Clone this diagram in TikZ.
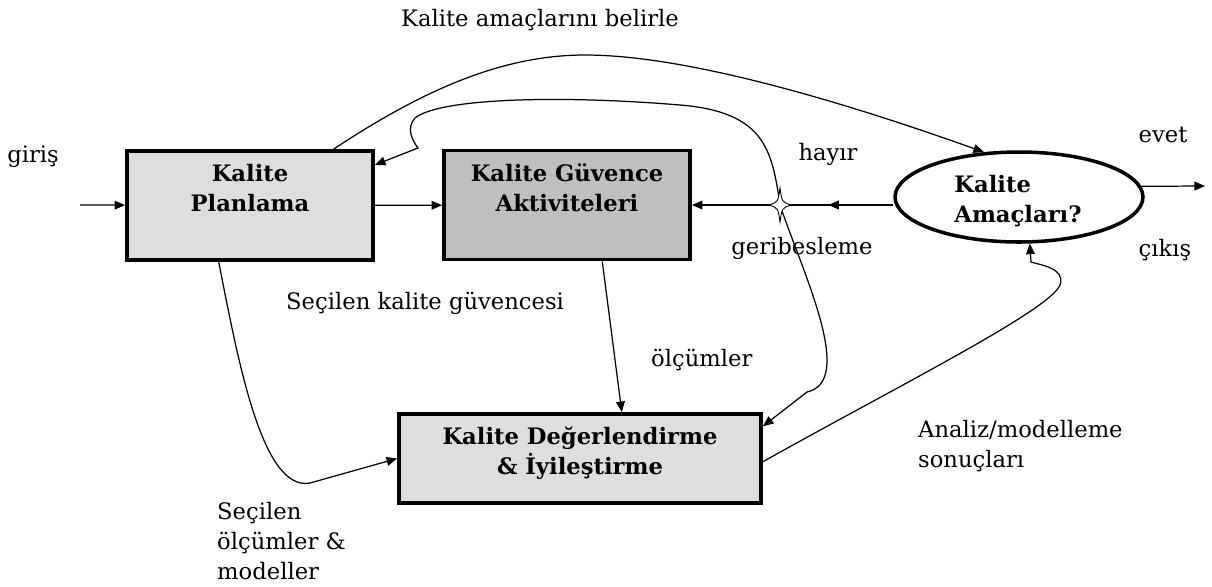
\documentclass[tikz,border=0pt]{standalone}
\usepackage{fontspec}
\setmainfont{DejaVu Serif}
\usetikzlibrary{arrows.meta,shapes.geometric}

\begin{document}
\begin{tikzpicture}[x=0.02cm, y=-0.02cm,
  font=\fontsize{12.9}{17}\selectfont,
  arr/.style={-{Triangle[length=6pt,width=5pt]}, line width=0.7pt},
  blok/.style={draw, line width=2.2pt, inner sep=0pt},
  baslik/.style={align=center, font=\fontsize{12.9}{17}\selectfont\bfseries}]
\useasboundingbox (0,0) rectangle (1212,586);
\node[blok, fill=black!13, minimum width=4.92cm, minimum height=2.18cm] (plan) at (250,205.5) {};
\node[blok, fill=black!25, minimum width=4.92cm, minimum height=2.18cm] (guv) at (567,205) {};
\node[blok, fill=black!13, minimum width=7.24cm, minimum height=1.78cm] (deg) at (580,458.5) {};
\node[draw, ellipse, line width=2pt, inner sep=0pt, minimum width=4.96cm, minimum height=1.8cm] (hedef) at (1019,197) {};
\node[baslik] (planlbl) at (250,188) {Kalite\\Planlama};
\node[baslik] (guvlbl) at (567,188) {Kalite Güvence\\Aktiviteleri};
\node[baslik] (deglbl) at (580,453) {Kalite Değerlendirme\\\& İyileştirme};
\node[baslik, align=left] (hedeflbl) at (1018,201) {Kalite\\Amaçları?};
\coordinate (giris) at (80,205);
\coordinate (cikis) at (1205,186);
\coordinate (jump) at (780,205);
\node (girislbl) at (33,157) {giriş};
\node (evetlbl) at (1163,135) {evet};
\node (cikislbl) at (1165,250) {çıkış};
\node (hayirlbl) at (828,154) {hayır};
\node (geriblbl) at (802,248) {geribesleme};
\node (amaclbl) at (540,20) {Kalite amaçlarını belirle};
\node[anchor=west] (guvsec) at (280,303) {Seçilen kalite güvencesi};
\node[anchor=west] (olcum) at (645,360) {ölçümler};
\node[anchor=west, align=left] (analiz) at (912,446) {Analiz/modelleme\\sonuçları};
\node[anchor=west, align=left] (olcsec) at (211,541) {Seçilen\\ölçümler \&\\modeller};
\draw[arr] (giris) -- (plan);
\draw[arr] (plan) -- (guv);
\draw[arr] (hedef.west |- guv.east) -- ++(-65,0);
\draw[arr] (hedef.west |- guv.east) -- (guv.east);
\draw[arr] (hedef.5) -- (cikis);
\draw[arr] (plan.34) .. controls (420,92) and (500,55) .. (585,55) .. controls (700,55) and (880,115) .. (hedef.128);
\draw[arr] (jump) .. controls (772,150) and (765,112) .. (680,105) .. controls (560,95) and (440,98) .. (415,118) .. controls (406,128) and (412,140) .. (418,148) -- (plan.18);
\draw[arr] (jump) .. controls (795,250) and (827,320) .. (827,360) .. controls (827,385) and (815,390) .. (807,392) -- (deg.10);
\draw[arr] (plan.241) .. controls (238,360) and (262,492) .. (310,483) -- (deg.west);
\draw[arr] (guv.-58) -- (deg.48);
\draw[arr] (deg.-1) .. controls (900,385) and (1050,310) .. (1060,285) .. controls (1066,268) and (1040,265) .. (1031,262) -- (hedef.-77);
\begin{scope}[shift={(jump)}]
\filldraw[fill=white, line width=0.5pt] (0,-17) .. controls (2,-3) .. (11,0) .. controls (2,3) .. (0,17) .. controls (-2,3) .. (-11,0) .. controls (-2,-3) .. cycle;
\end{scope}
\end{tikzpicture}
\end{document}
